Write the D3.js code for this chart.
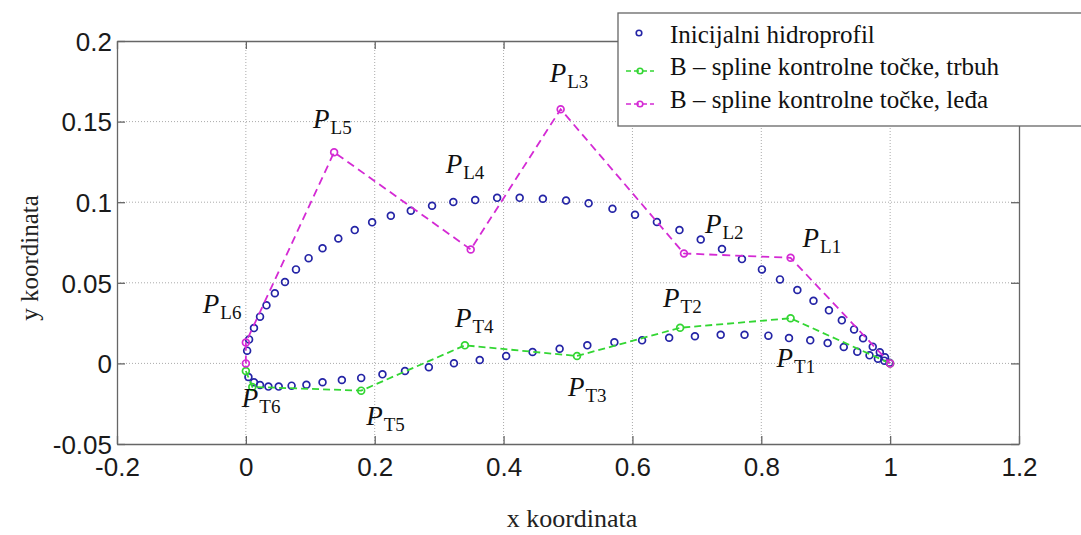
<!DOCTYPE html>
<html><head><meta charset="utf-8">
<script src="https://cdn.jsdelivr.net/npm/d3@7"></script>
<style>body{margin:0;background:#fff}svg{display:block}</style>
</head><body>
<svg id="c" width="1081" height="535"></svg>
<script>
// Initial hydrofoil (blue circles): upper surface then lower surface
const profileX = [0.002,0.005,0.0126,0.022,0.032,0.045,0.0607,0.0778,0.0974,0.119,0.1435,0.169,0.196,0.225,0.256,0.289,0.322,0.356,0.390,0.425,0.461,0.497,0.532,0.569,0.604,0.638,0.673,0.706,0.739,0.770,0.801,0.829,0.856,0.881,0.905,0.925,0.944,0.958,0.973,0.984,0.992,0.999,
  0.004,0.0126,0.022,0.035,0.051,0.071,0.094,0.119,0.149,0.179,0.212,0.247,0.284,0.323,0.363,0.404,0.445,0.487,0.530,0.572,0.615,0.657,0.697,0.737,0.774,0.811,0.843,0.876,0.903,0.928,0.949,0.968,0.981,0.991];
const profileY = [0.0079,0.0149,0.0219,0.029,0.036,0.0435,0.0505,0.0583,0.0653,0.0714,0.0775,0.0827,0.0875,0.0916,0.0947,0.0978,0.1001,0.1013,0.1027,0.1027,0.1021,0.1011,0.0993,0.0959,0.0922,0.0877,0.0827,0.0769,0.0709,0.0647,0.0583,0.0521,0.0455,0.0389,0.0329,0.0267,0.0211,0.0156,0.0104,0.0069,0.0038,0.0004,
  -0.0084,-0.0117,-0.0134,-0.0144,-0.0144,-0.0138,-0.0132,-0.0117,-0.0103,-0.009,-0.0068,-0.0047,-0.0024,0.0001,0.0021,0.0046,0.0071,0.0091,0.0112,0.0131,0.0143,0.0159,0.0168,0.0178,0.0178,0.0172,0.0157,0.0143,0.0126,0.0102,0.0073,0.005,0.0029,0.0017];
// B-spline control points, pressure side (trbuh)
const trbuhX = [0, 0.01, 0.179, 0.340, 0.514, 0.674, 0.8455, 1];
const trbuhY = [-0.0047, -0.0146, -0.0169, 0.0112, 0.0046, 0.0221, 0.028, 0];
// B-spline control points, suction side (leđa)
const ledaX = [0, 0, 0.137, 0.349, 0.4886, 0.680, 0.8455, 1];
const ledaY = [0, 0.013, 0.131, 0.0707, 0.1577, 0.0682, 0.0655, 0];
const trbuhLabels = ["T6", "", "T5", "T4", "T3", "T2", "T1", ""];
const ledaLabels = ["", "L6", "L5", "L4", "L3", "L2", "L1", ""];
const xTicks = [-0.2, 0, 0.2, 0.4, 0.6, 0.8, 1, 1.2];
const xTickLabels = ["-0.2", "0", "0.2", "0.4", "0.6", "0.8", "1", "1.2"];
const yTicks = [-0.05, 0, 0.05, 0.1, 0.15, 0.2];
const yTickLabels = ["-0.05", "0", "0.05", "0.1", "0.15", "0.2"];
const legendLabels = ["Inicijalni hidroprofil", "B \u2013 spline kontrolne to\u010dke, trbuh", "B \u2013 spline kontrolne to\u010dke, le\u0111a"];

const L = 117, R = 1019, T = 41, B = 444;
const x = d3.scaleLinear().domain([-0.2, 1.2]).range([L, R]);
const y = d3.scaleLinear().domain([-0.05, 0.2]).range([B, T]);
const svg = d3.select("#c");
const blue = "#2424a6", green = "#33d633", magenta = "#d42ad4";

// grid
const g = svg.append("g");
g.selectAll(".gx").data(xTicks.slice(1, -1)).join("line")
  .attr("x1", d => x(d)).attr("x2", d => x(d)).attr("y1", T).attr("y2", B)
  .attr("stroke", "#aaa").attr("stroke-dasharray", "1,2");
g.selectAll(".gy").data(yTicks.slice(1, -1)).join("line")
  .attr("y1", d => y(d)).attr("y2", d => y(d)).attr("x1", L).attr("x2", R)
  .attr("stroke", "#aaa").attr("stroke-dasharray", "1,2");

// axes with inner ticks
const fontAx = "'Liberation Sans', Arial, sans-serif";
const ax = svg.append("g").attr("transform", `translate(0,${B})`)
  .call(d3.axisBottom(x).tickValues(xTicks).tickFormat((d, i) => xTickLabels[i]).tickSizeInner(-8).tickSizeOuter(0).tickPadding(14));
const ay = svg.append("g").attr("transform", `translate(${L},0)`)
  .call(d3.axisLeft(y).tickValues(yTicks).tickFormat((d, i) => yTickLabels[i]).tickSizeInner(-8).tickSizeOuter(0).tickPadding(5));
const at = svg.append("g").attr("transform", `translate(0,${T})`)
  .call(d3.axisTop(x).tickValues(xTicks).tickFormat("").tickSizeInner(-8).tickSizeOuter(0));
const ar = svg.append("g").attr("transform", `translate(${R},0)`)
  .call(d3.axisRight(y).tickValues(yTicks).tickFormat("").tickSizeInner(-8).tickSizeOuter(0));
[ax, ay, at, ar].forEach(a => {
  a.select(".domain").attr("stroke", "#666").attr("stroke-width", 1.3);
  a.selectAll(".tick line").attr("stroke", "#666").attr("stroke-width", 1.3);
  a.selectAll("text").attr("font-family", fontAx).attr("font-size", 26).attr("fill", "#1a1a1a");
});
ay.selectAll("text").attr("dy", "0.36em");
ax.selectAll("text").attr("dy", "0.71em");

// blue profile circles
svg.append("g").selectAll("circle").data(profileX.map((d, i) => [d, profileY[i]])).join("circle")
  .attr("cx", d => x(d[0])).attr("cy", d => y(d[1])).attr("r", 3.4)
  .attr("fill", "none").attr("stroke", blue).attr("stroke-width", 1.7);

function series(xs, ys, color, dash) {
  const pts = xs.map((d, i) => [d, ys[i]]);
  const gg = svg.append("g");
  gg.append("path").attr("d", d3.line().x(d => x(d[0])).y(d => y(d[1]))(pts))
    .attr("fill", "none").attr("stroke", color).attr("stroke-width", 1.8).attr("stroke-dasharray", dash);
  gg.selectAll("circle").data(pts).join("circle")
    .attr("cx", d => x(d[0])).attr("cy", d => y(d[1])).attr("r", 3.4)
    .attr("fill", "none").attr("stroke", color).attr("stroke-width", 1.7);
  return pts;
}
const tp = series(trbuhX, trbuhY, green, "7,4");
const lp = series(ledaX, ledaY, magenta, "8,5");

// point labels
const labelOffsets = {L6: [-43, -29], L5: [-21, -24], L4: [-25, -76], L3: [-11, -27], L2: [21, -20], L1: [12, -11],
  T6: [-4, 36], T5: [5, 34], T4: [-10, -18], T3: [-9, 40], T2: [-17, -21], T1: [-14, 49]};
function addLabels(pts, names) {
  pts.forEach((p, i) => {
    const n = names[i];
    if (!n) return;
    const o = labelOffsets[n];
    const t = svg.append("text").attr("x", x(p[0]) + o[0]).attr("y", y(p[1]) + o[1])
      .attr("font-family", "'Liberation Serif', 'Times New Roman', serif").attr("fill", "#111");
    t.append("tspan").attr("font-style", "italic").attr("font-size", 27).text("P");
    t.append("tspan").attr("font-size", 19).attr("dx", 1).attr("dy", 6).text(n);
  });
}
addLabels(tp, trbuhLabels);
addLabels(lp, ledaLabels);

// axis titles
const fontSerif = "'Liberation Serif', 'Times New Roman', serif";
svg.append("text").attr("x", 572).attr("y", 527).attr("text-anchor", "middle")
  .attr("font-family", fontSerif).attr("font-size", 26).attr("fill", "#222").text("x koordinata");
svg.append("text").attr("transform", "translate(38,258) rotate(-90)").attr("text-anchor", "middle")
  .attr("font-family", fontSerif).attr("font-size", 25).attr("fill", "#222").text("y koordinata");

// legend
const lg = svg.append("g");
lg.append("rect").attr("x", 618).attr("y", 13).attr("width", 480).attr("height", 113)
  .attr("fill", "#fff").attr("stroke", "#666").attr("stroke-width", 1.3);
const rowsY = [35, 67, 100];
legendLabels.forEach((t, i) => {
  lg.append("text").attr("x", 670).attr("y", rowsY[i] + 8).attr("font-family", fontSerif)
    .attr("font-size", 25).attr("fill", "#111").text(t);
});
lg.append("circle").attr("cx", 639).attr("cy", rowsY[0] - 2).attr("r", 2.8).attr("fill", "none").attr("stroke", blue).attr("stroke-width", 1.6);
[[green, "5,3"], [magenta, "5,3"]].forEach((c, i) => {
  const yy = rowsY[i + 1] + 4;
  lg.append("line").attr("x1", 626).attr("x2", 654).attr("y1", yy).attr("y2", yy)
    .attr("stroke", c[0]).attr("stroke-width", 1.7).attr("stroke-dasharray", c[1]);
  lg.append("circle").attr("cx", 640).attr("cy", yy).attr("r", 2.8).attr("fill", "none").attr("stroke", c[0]).attr("stroke-width", 1.6);
});
</script>
</body></html>
